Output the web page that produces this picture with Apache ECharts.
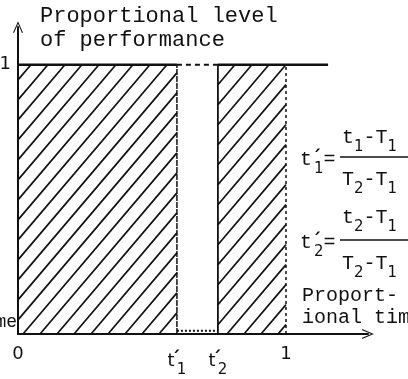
<!DOCTYPE html>
<html>
<head>
<meta charset="utf-8">
<script src="https://cdn.jsdelivr.net/npm/echarts@6/dist/echarts.min.js"></script>
<style>
  html, body { margin: 0; padding: 0; background: #fff; }
  #chart { width: 408px; height: 379px; }
</style>
</head>
<body>
<div id="chart"></div>
<script>
// points on the proportional time axis
const t1Prime = 0.593
const t2Prime = 0.746
const topLineEnd = 1.157
const gapFloor = 0.012
// hatched blocks: [from, to, level]
const blocks = [[0, t1Prime, 1], [t2Prime, 1, 1]]
const xTickValues = [0, t1Prime, t2Prime, 1]
const xTickLabels = ['0', 't{p|´}{s|1}', 't{p|´}{s|2}', '1']
const yTickValues = [0.045, 1]
const yTickLabels = ['me', '{o|1}']

const ink = '#111'
const mono = '"Liberation Mono", "DejaVu Sans Mono", monospace'
const sans = '"DejaVu Sans", "Liberation Sans", sans-serif'
const chevron = 'path://M0,14 L6,0 L12,14 L10.6,14 L6,3.2 L1.4,14 Z'
const subStyle = { fontFamily: sans, fontSize: 15, padding: [18, 0, 0, 0] }
// prime sits over the subscript, so its box is kept narrow
const primeStyle = { fontFamily: sans, fontSize: 18, fontWeight: 'bold', width: 2, padding: [0, 0, 4, 0] }

function pick(values, labels, v) {
  const i = values.findIndex(t => Math.abs(t - v) < 1e-6)
  return i < 0 ? '' : labels[i]
}

// diagonal hatching clipped to each block
function renderHatch(params, api) {
  const p0 = api.coord([api.value(0), 0])
  const p1 = api.coord([api.value(1), api.value(2)])
  const left = p0[0], right = p1[0], bottom = p0[1], top = p1[1]
  const h = bottom - top
  const k = 0.85
  const gap = 17
  const children = []
  for (let b = Math.ceil((left - k * h) / gap) * gap + 6; b < right; b += gap) {
    const s0 = Math.max(0, (left - b) / k)
    const s1 = Math.min(h, (right - b) / k)
    if (s1 <= s0) continue
    children.push({
      type: 'line',
      shape: { x1: b + k * s0, y1: bottom - s0, x2: b + k * s1, y2: bottom - s1 },
      style: { stroke: ink, lineWidth: 1.7 }
    })
  }
  return { type: 'group', children }
}

function seg(data, type, width) {
  return {
    type: 'line',
    data,
    symbol: 'none',
    silent: true,
    lineStyle: { color: ink, width, type }
  }
}

function formulaText(text, x, y) {
  return {
    type: 'text',
    style: {
      text, x, y,
      font: '20px ' + mono,
      fill: ink,
      textVerticalAlign: 'middle',
      rich: { s: subStyle, p: primeStyle }
    }
  }
}

const chart = echarts.init(document.getElementById('chart'))
chart.setOption({
  animation: false,
  grid: { left: 18, right: 40, top: 27, bottom: 45, outerBoundsMode: 'none' },
  xAxis: {
    type: 'value',
    min: 0,
    max: 1.306,
    axisLine: {
      show: true,
      symbol: ['none', chevron],
      symbolSize: [10, 16],
      lineStyle: { color: ink, width: 2 }
    },
    axisTick: { show: false },
    splitLine: { show: false },
    axisLabel: {
      customValues: xTickValues,
      formatter: v => pick(xTickValues, xTickLabels, v),
      fontFamily: sans,
      fontSize: 18,
      color: ink,
      margin: 11,
      rich: { s: subStyle, p: primeStyle }
    }
  },
  yAxis: {
    type: 'value',
    min: 0,
    max: 1.14,
    axisLine: {
      show: true,
      symbol: ['none', chevron],
      symbolSize: [10, 16],
      lineStyle: { color: ink, width: 2 }
    },
    axisTick: { show: false },
    splitLine: { show: false },
    axisLabel: {
      customValues: yTickValues,
      formatter: v => pick(yTickValues, yTickLabels, v),
      fontFamily: mono,
      fontSize: 18,
      color: ink,
      margin: 1,
      rich: { o: { fontFamily: sans, padding: [0, 6, 0, 0] } }
    }
  },
  series: [
    {
      type: 'custom',
      renderItem: renderHatch,
      data: blocks,
      encode: { x: [0, 1], y: 2 },
      silent: true
    },
    seg([[0, 1], [t1Prime, 1]], 'solid', 2.5),
    seg([[t1Prime, 1], [t2Prime, 1]], [5, 4], 2),
    seg([[t2Prime, 1], [topLineEnd, 1]], 'solid', 2.5),
    seg([[t1Prime, gapFloor], [t2Prime, gapFloor]], [2, 2], 2),
    seg([[t1Prime, 0], [t1Prime, 1]], [6, 1], 1.5),
    seg([[t2Prime, 0], [t2Prime, 1]], 'solid', 1.8),
    seg([[1, 0], [1, 1]], [3, 3], 1.5)
  ],
  graphic: [
    { type: 'text', style: { text: 'Proportional level', x: 40, y: 16, font: '22px ' + mono, fill: ink, textVerticalAlign: 'middle' } },
    { type: 'text', style: { text: 'of performance', x: 40, y: 40, font: '22px ' + mono, fill: ink, textVerticalAlign: 'middle' } },
    // t1' = (t1 - T1) / (T2 - T1)
    formulaText('t{p|´}{s|1}=', 300, 160),
    formulaText('t{s|1}-T{s|1}', 342, 138),
    { type: 'line', shape: { x1: 340, y1: 157, x2: 408, y2: 157 }, style: { stroke: ink, lineWidth: 1.5 } },
    formulaText('T{s|2}-T{s|1}', 342, 180),
    // t2' = (t2 - T1) / (T2 - T1)
    formulaText('t{p|´}{s|2}=', 300, 243),
    formulaText('t{s|2}-T{s|1}', 342, 218),
    { type: 'line', shape: { x1: 340, y1: 240, x2: 408, y2: 240 }, style: { stroke: ink, lineWidth: 1.5 } },
    formulaText('T{s|2}-T{s|1}', 342, 264),
    // x axis name
    { type: 'text', style: { text: 'Proport-', x: 302, y: 296, font: '20px ' + mono, fill: ink, textVerticalAlign: 'middle' } },
    { type: 'text', style: { text: 'ional tim', x: 302, y: 318, font: '20px ' + mono, fill: ink, textVerticalAlign: 'middle' } }
  ]
})
</script>
</body>
</html>
